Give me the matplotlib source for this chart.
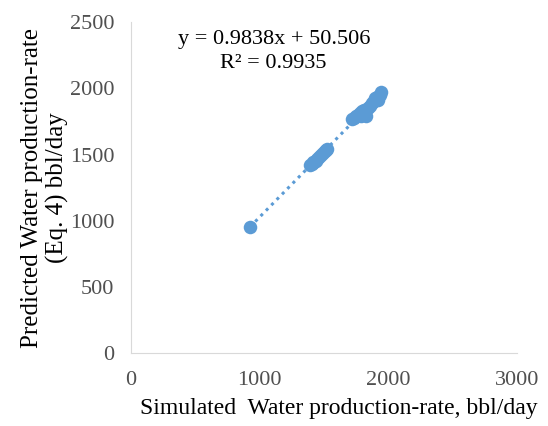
import numpy as np
import matplotlib
matplotlib.use('Agg')
import matplotlib.pyplot as plt

plt.rcParams['font.family'] = ['Liberation Serif', 'DejaVu Serif']

# simulated vs predicted water production-rate, bbl/day
simulated = [925, 1395, 1405, 1415, 1425, 1435, 1445, 1460, 1475, 1490, 1505, 1515, 1525,
             1720, 1735, 1750, 1765, 1780, 1790, 1800, 1815, 1825, 1840, 1860, 1875,
             1890, 1900, 1910, 1920, 1935, 1945]
predicted = [950, 1420, 1430, 1440, 1445, 1455, 1465, 1480, 1495, 1510, 1525, 1535, 1545,
             1770, 1775, 1790, 1800, 1815, 1790, 1830, 1840, 1790, 1855, 1870, 1890,
             1905, 1925, 1935, 1910, 1950, 1975]
eq_text = "y = 0.9838x + 50.506\nR² = 0.9935"

blue = '#5B9BD5'

fig = plt.figure(figsize=(5.48, 4.26), dpi=100)
ax = fig.add_axes([0.239, 0.171, 0.704, 0.777])

ax.scatter(simulated, predicted, s=95, color=blue, zorder=3, linewidths=0)

# linear trendline
k, b = np.polyfit(simulated, predicted, 1)
xs = np.array([min(simulated), max(simulated)])
ax.plot(xs, k * xs + b, color=blue, lw=2.2, linestyle=(0, (1, 1.5)), zorder=2)

ax.set_xlim(0, 3000)
ax.set_ylim(0, 2500)
ax.set_xticks([0, 1000, 2000, 3000])
ax.set_yticks([0, 500, 1000, 1500, 2000, 2500])
ax.tick_params(length=0, labelsize=16, colors='#505050')
ax.tick_params(axis='y', pad=12)
ax.tick_params(axis='x', pad=13)
for s in ['top', 'right']:
    ax.spines[s].set_visible(False)
for s in ['left', 'bottom']:
    ax.spines[s].set_color('#d9d9d9')

ax.set_xlabel("Simulated  Water production-rate, bbl/day", fontsize=17)
ax.xaxis.set_label_coords(0.54, -0.135)
ax.set_ylabel("Predicted Water production-rate\n(Eq. 4) bbl/day", fontsize=18,
              linespacing=1.2)
ax.yaxis.set_label_coords(-0.16, 0.5)

ax.text(0.37, 0.975, eq_text, transform=ax.transAxes, ha='center', va='top',
        fontsize=16, linespacing=1.3)

fig.savefig('out.png', dpi=100)
